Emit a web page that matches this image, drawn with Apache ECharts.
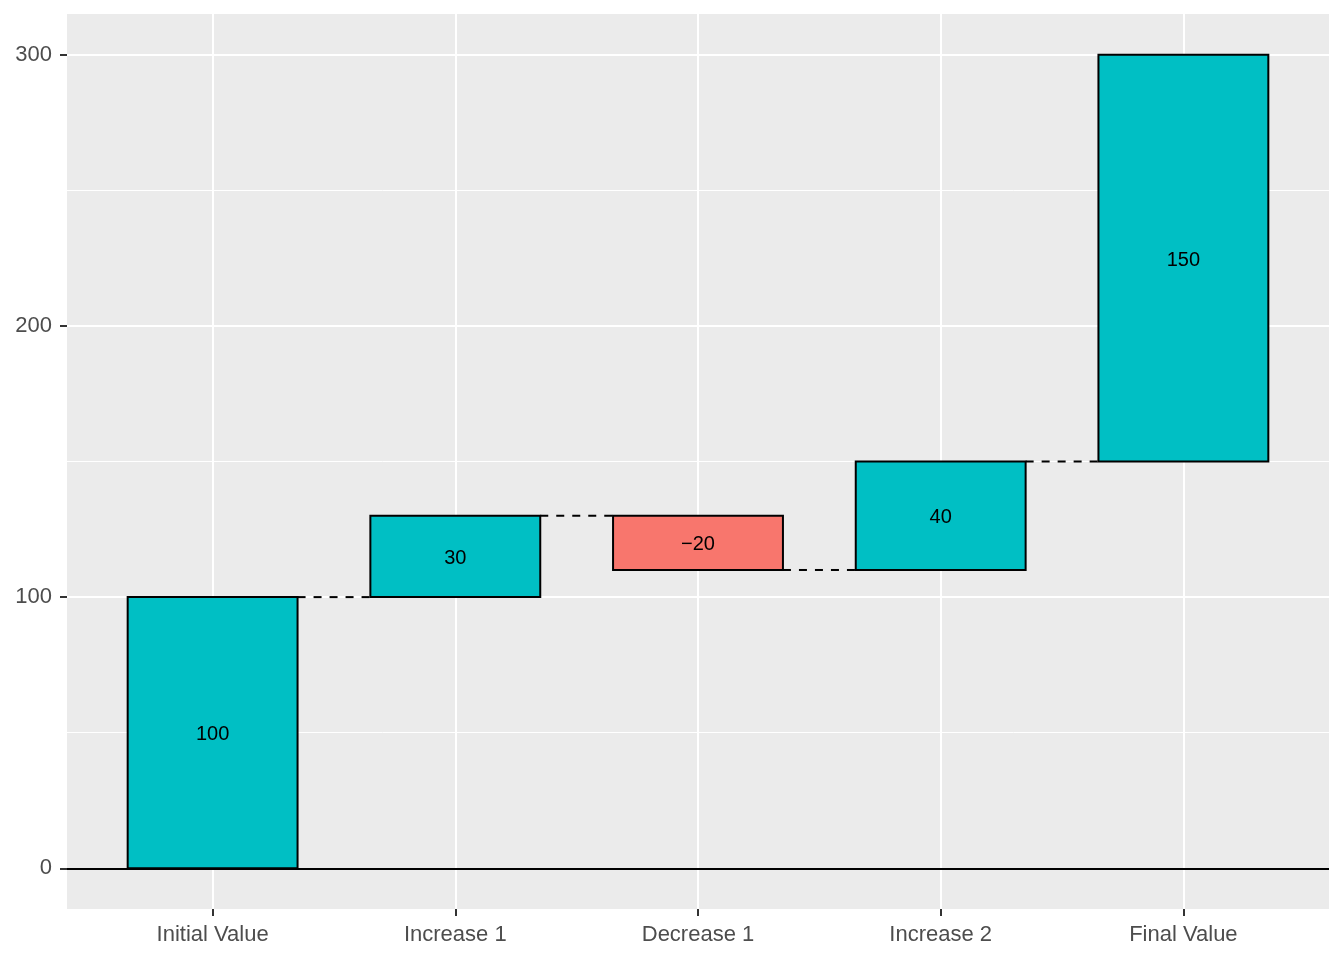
<!DOCTYPE html>
<html><head><meta charset="utf-8">
<script src="https://cdn.jsdelivr.net/npm/echarts@6.0.0/dist/echarts.min.js"></script>
<style>html,body{margin:0;padding:0;background:#fff}#c{width:1344px;height:960px}</style>
</head><body><div id="c"></div>
<script>
const categories = ['Initial Value', 'Increase 1', 'Decrease 1', 'Increase 2', 'Final Value'];
const amounts = [100, 30, -20, 40, 150];
const barStart = [0, 100, 130, 110, 150];
const barEnd = [100, 130, 110, 150, 300];
const barType = ['up', 'up', 'down', 'up', 'up'];
const yMajorTicks = [0, 100, 200, 300];
const yMinorTicks = [50, 150, 250];
const xTicks = [0, 1, 2, 3, 4];

const FONT = '"Liberation Sans", Arial, sans-serif';
const colors = { up: '#00BFC4', down: '#F8766D' };
const halfW = 0.35;

const chart = echarts.init(document.getElementById('c'), null, { renderer: 'canvas' });

const barData = categories.map((c, i) => [i, barStart[i], barEnd[i], amounts[i], barType[i]]);
const connData = [];
for (let i = 0; i < categories.length - 1; i++) connData.push([i, barEnd[i]]);

chart.setOption({
  animation: false,
  backgroundColor: '#ffffff',
  grid: { left: 67, right: 15, top: 14, bottom: 51, show: true, backgroundColor: '#EBEBEB', borderWidth: 0 },
  xAxis: {
    type: 'value', min: -0.6, max: 4.6, position: 'bottom',
    axisLine: { show: false, onZero: false },
    axisTick: { show: true, length: 7, lineStyle: { color: '#333333', width: 2 }, customValues: xTicks },
    axisLabel: {
      customValues: xTicks, margin: 15, color: '#4D4D4D', fontSize: 22, fontFamily: FONT,
      formatter: v => (categories[Math.round(v)] !== undefined && Math.abs(v - Math.round(v)) < 1e-6) ? categories[Math.round(v)] : ''
    },
    splitLine: { show: true, lineStyle: { color: '#ffffff', width: 2 } }
  },
  yAxis: [{
    type: 'value', min: -15, max: 315, position: 'left',
    axisLine: { show: false, onZero: false },
    axisTick: { show: true, length: 7, lineStyle: { color: '#333333', width: 2 }, customValues: yMajorTicks },
    axisLabel: { customValues: yMajorTicks, margin: 15, color: '#4D4D4D', fontSize: 22, fontFamily: FONT },
    splitLine: { show: true, lineStyle: { color: '#ffffff', width: 2 } }
  }, {
    type: 'value', min: -15, max: 315, position: 'left',
    axisLine: { show: false, onZero: false },
    axisTick: { show: false, customValues: yMinorTicks },
    axisLabel: { show: false, customValues: yMinorTicks },
    splitLine: { show: true, lineStyle: { color: '#ffffff', width: 1 } }
  }],
  series: [{
    type: 'custom',
    yAxisIndex: 0,
    data: connData,
    encode: { x: 0, y: 1 },
    z: 3,
    renderItem: (params, api) => {
      const i = api.value(0), lvl = api.value(1);
      const a = api.coord([i + halfW, lvl]);
      const b = api.coord([i + 1 - halfW, lvl]);
      return { type: 'line', shape: { x1: a[0], y1: a[1], x2: b[0], y2: b[1] },
        style: { stroke: '#000', lineWidth: 2, lineDash: [8, 8] } };
    }
  }, {
    type: 'custom',
    yAxisIndex: 0,
    data: barData,
    encode: { x: 0, y: [1, 2] },
    z: 4,
    renderItem: (params, api) => {
      const i = api.value(0);
      const s = api.value(1), e = api.value(2), amt = api.value(3);
      const t = barData[params.dataIndex][4];
      const p0 = api.coord([i - halfW, s]);
      const p1 = api.coord([i + halfW, e]);
      const y0 = Math.min(p0[1], p1[1]), h = Math.abs(p1[1] - p0[1]);
      return { type: 'group', children: [
        { type: 'rect', shape: { x: p0[0], y: y0, width: p1[0] - p0[0], height: h },
          style: { fill: colors[t], stroke: '#000', lineWidth: 2 } },
        { type: 'text', style: { x: (p0[0] + p1[0]) / 2, y: y0 + h / 2 + 2,
          text: String(amt).replace('-', '\u2212'), align: 'center', verticalAlign: 'middle',
          fill: '#000', fontSize: 20, fontFamily: FONT } }
      ] };
    },
    markLine: {
      silent: true, symbol: 'none', animation: false,
      label: { show: false },
      lineStyle: { color: '#000', width: 2, type: 'solid' },
      data: [{ yAxis: 0 }]
    }
  }]
});
</script>
</body></html>
